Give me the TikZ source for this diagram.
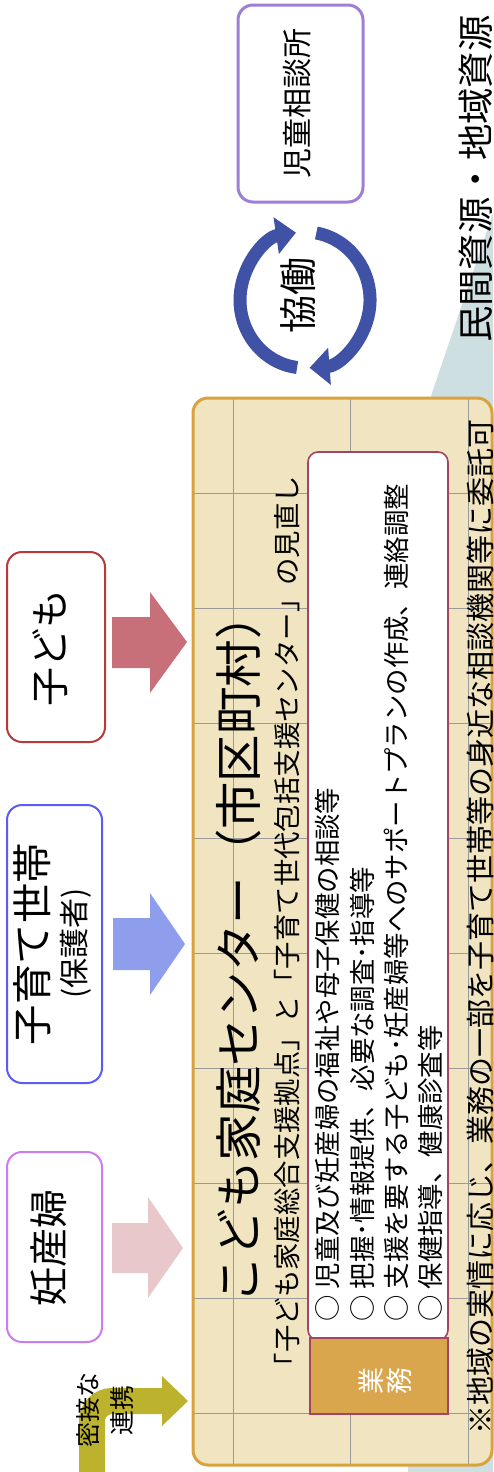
\documentclass[tikz,border=0pt]{standalone}
\usepackage{fontspec}
\setmainfont{Noto Sans CJK JP}
\usetikzlibrary{arrows.meta}
\definecolor{tealbg}{HTML}{CEDFE1}
\definecolor{bigfill}{HTML}{F1E4C0}
\definecolor{bigborder}{HTML}{D9A23D}
\definecolor{gridc}{HTML}{9A9A9A}
\definecolor{listborder}{HTML}{A24562}
\definecolor{gyomufill}{HTML}{D9A64E}
\definecolor{circc}{HTML}{3F52A6}
\definecolor{jisoborder}{HTML}{9D80D6}
\definecolor{ninborder}{HTML}{CF7BF0}
\definecolor{kosoborder}{HTML}{5B5BF8}
\definecolor{kodoborder}{HTML}{B23B3B}
\definecolor{pinkarrow}{HTML}{E9C8CC}
\definecolor{bluearrow}{HTML}{8E9DEC}
\definecolor{redarrow}{HTML}{C87079}
\definecolor{olivec}{HTML}{BCB22E}
\begin{document}
\begin{tikzpicture}[x=0.5pt,y=-0.5pt,
  rtext/.style={rotate=90, inner sep=0pt},
  sidebox/.style={draw, line width=1pt, rounded corners=7.5pt, fill=white, rotate=90},
  gridline/.style={draw=gridc, line width=0.5pt},
  circarrow/.style={draw=circc, line width=6.5pt, -{Triangle[width=18pt,length=10pt]}}
]
\useasboundingbox (0,0) rectangle (493,1472);

% teal background wedge
\fill[tealbg] (493,213) -- (430,399) -- (408,1472) -- (493,1472) -- cycle;

% big centre box
\node[fill=bigfill, rounded corners=7.5pt, inner sep=0pt, minimum width=149.5pt, minimum height=533.5pt] (centre) at (342.5,931.5) {};
\begin{scope}
\clip[rounded corners=7.5pt] (193,398) rectangle (492,1465);
\foreach \y in {493,608,...,1413} \draw[gridline] (193,\y) -- (492,\y);
\foreach \x in {233,350,468} \draw[gridline] (\x,398) -- (\x,1465);
\end{scope}
\draw[bigborder, line width=1.5pt, rounded corners=7.5pt] (193,398) rectangle (492,1465);

% list box and 業務 label
\node[draw=listborder, fill=white, line width=0.8pt, rounded corners=5pt, inner sep=0pt, minimum width=70pt, minimum height=444pt] (list) at (378,896) {};
\node[draw=listborder, fill=gyomufill, line width=0.8pt, inner sep=0pt, minimum width=69pt, minimum height=38pt] (gyomubox) at (379,1376) {};
\node[rtext, text=white, align=center, font=\fontsize{13.5pt}{14pt}\selectfont] (gyomu) at (385,1381) {業\\務};

% titles
\node[rtext, font=\fontsize{23.7pt}{26pt}\selectfont] (title) at (238,948) {こども家庭センター（市区町村）};
\node[rtext, font=\fontsize{13.7pt}{16pt}\selectfont] (subtitle) at (287,928) {「子ども家庭総合支援拠点」と「子育て世代包括支援センター」の見直し};
\node[rtext, font=\fontsize{14.5pt}{17pt}\selectfont] (note) at (480,927) {※地域の実情に応じ、業務の一部を子育て世帯等の身近な相談機関等に委託可};

% list items
\begin{scope}[every node/.style={rtext, anchor=west, font=\fontsize{13.2pt}{16pt}\selectfont}]
\node (l1) at (327,1322) {○ 児童及び妊産婦の福祉や母子保健の相談等};
\node (l2) at (362,1322) {○ 把握･情報提供、必要な調査･指導等};
\node (l3) at (396,1322) {○ 支援を要する子ども･妊産婦等へのサポートプランの作成、連絡調整};
\node (l4) at (430,1322) {○ 保健指導、健康診査等};
\end{scope}

% side boxes
\node[sidebox, draw=kodoborder, minimum width=95pt, minimum height=49pt] (kodomobox) at (56,647) {};
\node[rtext, font=\fontsize{19.5pt}{22pt}\selectfont] (kodomo) at (50,648) {子ども};
\node[sidebox, draw=kosoborder, minimum width=139pt, minimum height=47.5pt] (kosobox) at (54.5,944) {};
\node[rtext, font=\fontsize{20.2pt}{22pt}\selectfont] (koso) at (32,944) {子育て世帯};
\node[rtext, font=\fontsize{15pt}{17pt}\selectfont] (hogo) at (76,943) {(保護者)};
\node[sidebox, draw=ninborder, minimum width=95pt, minimum height=47.5pt] (ninbox) at (54.5,1247) {};
\node[rtext, font=\fontsize{19.5pt}{22pt}\selectfont] (nin) at (49,1248) {妊産婦};

% block arrows
\fill[redarrow] (112,617) -- (150,617) -- (150,592) -- (187,642) -- (150,693) -- (150,668) -- (112,668) -- cycle;
\fill[bluearrow] (113,918) -- (150,918) -- (150,893) -- (185,944) -- (150,995) -- (150,970) -- (113,970) -- cycle;
\fill[pinkarrow] (112,1223) -- (148,1223) -- (148,1197) -- (183,1248) -- (148,1298) -- (148,1273) -- (112,1273) -- cycle;

% bent arrow 密接な連携
\draw[olivec, line width=13pt] (92,1472) -- (92,1421) arc[start angle=180, end angle=270, radius=20] -- (163,1401);
\fill[olivec] (162,1376) -- (188,1401) -- (162,1426) -- cycle;
\node[rtext, align=center, font=\fontsize{12.5pt}{17pt}\selectfont] (renkei) at (105,1410) {密接な\\連携};

% 児童相談所
\node[sidebox, draw=jisoborder, line width=1.5pt, minimum width=98.5pt, minimum height=62.5pt] (jisobox) at (300.5,103.5) {};
\node[rtext, font=\fontsize{15pt}{17pt}\selectfont] (jiso) at (297,103) {児童相談所};

% 協働 circular arrows
\draw[circarrow] (297.1,367.5) arc[start angle=97, end angle=262, x radius=65, y radius=68];
\draw[circarrow] (316.3,233.0) arc[start angle=-80, end angle=86, x radius=65, y radius=68];
\node[rtext, font=\fontsize{19pt}{21pt}\selectfont] (kyodo) at (298,295) {協働};

% 民間資源・地域資源
\node[rtext, font=\fontsize{18.2pt}{20pt}\selectfont] (minkan) at (476,179) {民間資源・地域資源};
\end{tikzpicture}
\end{document}
